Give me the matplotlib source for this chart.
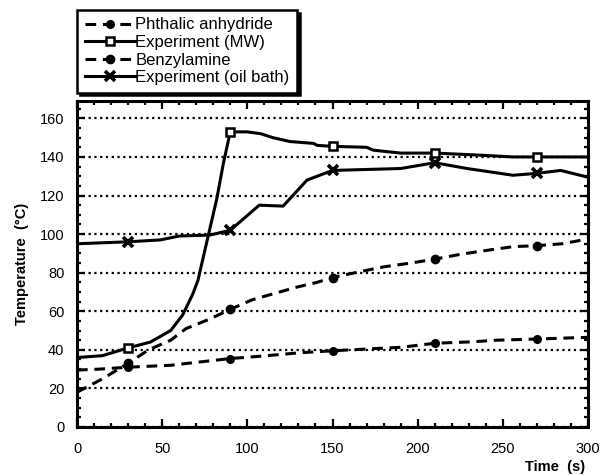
import matplotlib
matplotlib.use("Agg")
import matplotlib.pyplot as plt
from matplotlib.ticker import MultipleLocator

plt.rcParams["font.family"] = ["Liberation Sans", "DejaVu Sans"]

# times where markers sit on every curve
MARK_T = [30, 90, 150, 210, 270]

phth_t = [0, 13, 30, 55, 90, 105, 131, 150, 178, 190, 210, 233, 246, 270, 300]
phth_T = [29.5, 30, 31, 32, 35.5, 36.5, 38.5, 39.5, 40.8, 41.3, 43.4, 44.2, 45, 45.6, 46.5]

mw_t = [0, 15, 30, 43, 55, 62, 68, 71, 77, 82, 86, 90, 100, 108, 115, 125, 139,
        141, 150, 170, 174, 190, 210, 235, 256, 270, 300]
mw_T = [36, 37, 41, 44, 50, 58, 69, 76, 99, 118, 137, 153, 153, 152, 150, 148, 147,
        146, 145.5, 145, 143.5, 142, 142, 141, 140, 140, 140]

benz_t = [0, 15, 30, 42, 55, 64, 78, 90, 103, 117, 129, 141, 150, 166, 180, 196,
          210, 225, 240, 256, 270, 285, 300]
benz_T = [18, 25, 33, 40, 45, 51, 56, 61, 66, 69.5, 72.5, 75, 77.5, 80.5, 83, 85,
          87, 89.5, 91.5, 93.5, 94, 95, 97.5]

oil_t = [0, 30, 49, 60, 78, 90, 107, 121, 135, 150, 190, 210, 229, 256, 270, 284, 300]
oil_T = [95, 96, 97, 99, 99.5, 102, 115, 114.5, 128, 133, 134, 137, 134, 130.5,
         131.5, 133, 129.5]


def marks(ts):
    return [i for i, t in enumerate(ts) if t in MARK_T]


fig = plt.figure(figsize=(6.03, 4.75), dpi=100)
ax = fig.add_axes([77 / 603, 1 - 427 / 475, 511 / 603, 326 / 475])

ax.yaxis.grid(True, which="major", color="black", linestyle=(0, (1, 1.6)), lw=1.6)
ax.set_axisbelow(True)

LW = 2.2
ax.plot(phth_t, phth_T, color="black", lw=LW, dashes=[3.5, 2.2], marker="o",
        ms=5.5, markevery=marks(phth_t), label="Phthalic anhydride")
ax.plot(mw_t, mw_T, color="black", lw=LW, marker="s", ms=5.5, mfc="white",
        mew=1.8, markevery=marks(mw_t), label="Experiment (MW)")
ax.plot(benz_t, benz_T, color="black", lw=LW, dashes=[3.5, 2.2], marker="o",
        ms=6, markevery=marks(benz_t), label="Benzylamine")
ax.plot(oil_t, oil_T, color="black", lw=LW, marker="x", ms=6.5, mew=2.6,
        markevery=marks(oil_t), label="Experiment (oil bath)")

ax.set_xlim(0, 300)
ax.set_ylim(0, 169)
ax.xaxis.set_major_locator(MultipleLocator(50))
ax.xaxis.set_minor_locator(MultipleLocator(10))
ax.yaxis.set_major_locator(MultipleLocator(20))
ax.yaxis.set_minor_locator(MultipleLocator(5))
ax.tick_params(which="both", direction="in", top=True, right=True, width=1.6,
               labelsize=10.5, colors="black")
ax.tick_params(which="major", length=6)
ax.tick_params(which="minor", length=3)
ax.tick_params(axis="x", which="major", pad=11)
ax.tick_params(axis="y", which="major", pad=9)
for s in ax.spines.values():
    s.set_linewidth(2.2)

ax.set_ylabel("Temperature  (°C)", fontweight="bold", fontsize=10.5, labelpad=8)
ax.set_xlabel("Time  (s)", fontweight="bold", fontsize=10.5)
ax.xaxis.set_label_coords(0.935, -0.1)

leg = fig.legend(loc="upper left", bbox_to_anchor=(77 / 603, 1 - 10 / 475),
                 fontsize=12, frameon=True, fancybox=False, handlelength=3.0,
                 handletextpad=0.05, labelspacing=0.15, borderpad=0.45,
                 borderaxespad=0, shadow={"color": "black", "alpha": 1})
leg.get_frame().set_edgecolor("black")
leg.get_frame().set_linewidth(1.8)

fig.savefig("out.png", dpi=100)
